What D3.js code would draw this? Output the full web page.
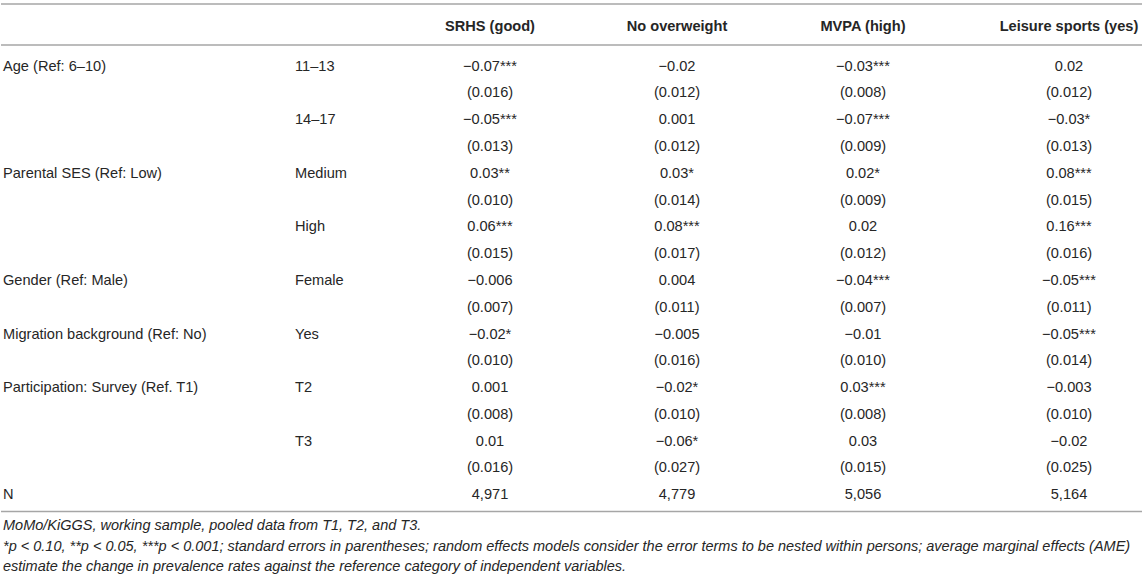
<!DOCTYPE html>
<html>
<head>
<meta charset="utf-8">
<script src="https://cdn.jsdelivr.net/npm/d3@7"></script>
<style>
  body { margin: 0; background: #fff; }
  svg text { font-family: "Liberation Sans", Arial, Helvetica, sans-serif; fill: #262626; }
</style>
</head>
<body>
<div id="chart"></div>
<script>
// Column headers (outcomes) and row variables
const outcomes = ["SRHS (good)", "No overweight", "MVPA (high)", "Leisure sports (yes)"];
const groups = ["Age (Ref: 6–10)", "Parental SES (Ref: Low)", "Gender (Ref: Male)",
                "Migration background (Ref: No)", "Participation: Survey (Ref. T1)"];
const levels = [["11–13", "14–17"], ["Medium", "High"], ["Female"], ["Yes"], ["T2", "T3"]];

// Average marginal effects, significance stars and standard errors per outcome
const srhsEst   = [-0.07, -0.05, 0.03, 0.06, -0.006, -0.02, 0.001, 0.01];
const srhsStars = [3, 3, 2, 3, 0, 1, 0, 0];
const srhsSE    = [0.016, 0.013, 0.010, 0.015, 0.007, 0.010, 0.008, 0.016];

const owEst   = [-0.02, 0.001, 0.03, 0.08, 0.004, -0.005, -0.02, -0.06];
const owStars = [0, 0, 1, 3, 0, 0, 1, 1];
const owSE    = [0.012, 0.012, 0.014, 0.017, 0.011, 0.016, 0.010, 0.027];

const mvpaEst   = [-0.03, -0.07, 0.02, 0.02, -0.04, -0.01, 0.03, 0.03];
const mvpaStars = [3, 3, 1, 0, 3, 0, 3, 0];
const mvpaSE    = [0.008, 0.009, 0.009, 0.012, 0.007, 0.010, 0.008, 0.015];

const sportEst   = [0.02, -0.03, 0.08, 0.16, -0.05, -0.05, -0.003, -0.02];
const sportStars = [0, 1, 3, 3, 3, 3, 0, 0];
const sportSE    = [0.012, 0.013, 0.015, 0.016, 0.011, 0.014, 0.010, 0.025];

const nObs = ["4,971", "4,779", "5,056", "5,164"];

const notes = [
  "MoMo/KiGGS, working sample, pooled data from T1, T2, and T3.",
  "*p < 0.10, **p < 0.05, ***p < 0.001; standard errors in parentheses; random effects models consider the error terms to be nested within persons; average marginal effects (AME)",
  "estimate the change in prevalence rates against the reference category of independent variables."
];

const est = [srhsEst, owEst, mvpaEst, sportEst];
const stars = [srhsStars, owStars, mvpaStars, sportStars];
const se = [srhsSE, owSE, mvpaSE, sportSE];

const width = 1145, height = 581;
const fs = 14.6;

const svg = d3.select("#chart")
  .append("svg")
    .attr("width", width)
    .attr("height", height);

// Build the table rows: estimate row followed by standard error row
const fmtEst = v => (v < 0 ? "−" : "") + String(Math.abs(v));
const fmtSE = d3.format(".3f");
const rows = [];
let k = 0;
groups.forEach((g, gi) => {
  levels[gi].forEach((lv, li) => {
    rows.push({ label: li === 0 ? g : "", level: lv,
                cells: est.map((e, c) => fmtEst(e[k]) + "*".repeat(stars[c][k])) });
    rows.push({ label: "", level: "", cells: se.map(s => "(" + fmtSE(s[k]) + ")") });
    k++;
  });
});
rows.push({ label: "N", level: "", cells: nObs });

// Scales (row centres, column centres)
const y = d3.scaleLinear().domain([0, rows.length - 1]).range([65.5, 494]);
const x = d3.scaleOrdinal().domain(outcomes).range([490, 677, 863, 1069]);
const xLabel = 3, xLevel = 295;

// Rules
const rules = [4, 45, 511.5];
svg.selectAll(".rule")
  .data(rules)
  .join("line")
    .attr("class", "rule")
    .attr("x1", 1).attr("x2", 1142)
    .attr("y1", d => d).attr("y2", d => d)
    .attr("stroke", "#a6a6a6")
    .attr("stroke-width", 1.6);

// Header
svg.selectAll(".head")
  .data(outcomes)
  .join("text")
    .attr("class", "head")
    .attr("x", d => x(d))
    .attr("y", 31)
    .attr("text-anchor", "middle")
    .attr("font-weight", "bold")
    .attr("font-size", fs)
    .text(d => d);

// Body
const row = svg.selectAll(".row")
  .data(rows)
  .join("g")
    .attr("class", "row")
    .attr("transform", (d, i) => `translate(0,${y(i) + 5.2})`);

row.append("text")
  .attr("x", xLabel)
  .attr("font-size", fs)
  .text(d => d.label);

row.append("text")
  .attr("x", xLevel)
  .attr("font-size", fs)
  .text(d => d.level);

row.selectAll(".cell")
  .data(d => d.cells.map((c, i) => ({ key: outcomes[i], text: c })))
  .join("text")
    .attr("class", "cell")
    .attr("x", d => x(d.key))
    .attr("text-anchor", "middle")
    .attr("font-size", fs)
    .text(d => d.text);

// Notes
svg.selectAll(".note")
  .data(notes)
  .join("text")
    .attr("class", "note")
    .attr("x", 3)
    .attr("y", (d, i) => 530 + i * 20.5)
    .attr("font-style", "italic")
    .attr("font-size", 14.5)
    .text(d => d);
</script>
</body>
</html>
